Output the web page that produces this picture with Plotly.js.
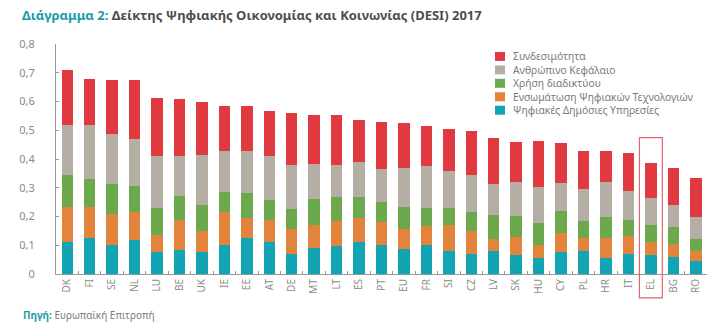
<!DOCTYPE html>
<html>
<head>
<meta charset="utf-8">
<script src="https://cdn.plot.ly/plotly-3.0.1.min.js"></script>
<style>html,body{margin:0;padding:0;background:#fff;}#chart{width:707px;height:329px;}</style>
</head>
<body>
<div id="chart"></div>
<script>
const countries = ["DK","FI","SE","NL","LU","BE","UK","IE","EE","AT","DE","MT","LT","ES","PT","EU","FR","SI","CZ","LV","SK","HU","CY","PL","HR","IT","EL","BG","RO"];
const publicServices = [0.111,0.125,0.102,0.117,0.076,0.085,0.076,0.100,0.125,0.111,0.070,0.092,0.096,0.111,0.102,0.087,0.102,0.081,0.070,0.081,0.065,0.055,0.077,0.081,0.054,0.070,0.065,0.060,0.045];
const integration = [0.123,0.109,0.108,0.097,0.059,0.103,0.074,0.114,0.070,0.076,0.087,0.080,0.089,0.084,0.080,0.070,0.065,0.090,0.078,0.041,0.062,0.047,0.065,0.045,0.071,0.063,0.046,0.045,0.035];
const internetUse = [0.110,0.095,0.103,0.092,0.094,0.083,0.090,0.072,0.087,0.069,0.068,0.090,0.082,0.072,0.069,0.075,0.063,0.059,0.066,0.084,0.075,0.077,0.077,0.060,0.075,0.055,0.061,0.059,0.042];
const humanCapital = [0.176,0.191,0.175,0.162,0.182,0.140,0.175,0.141,0.145,0.155,0.155,0.121,0.113,0.123,0.115,0.138,0.145,0.129,0.130,0.106,0.119,0.124,0.099,0.111,0.119,0.100,0.094,0.077,0.075];
const connectivity = [0.188,0.159,0.188,0.208,0.202,0.196,0.185,0.158,0.156,0.157,0.181,0.171,0.174,0.147,0.164,0.154,0.139,0.147,0.155,0.161,0.137,0.159,0.139,0.131,0.108,0.133,0.121,0.129,0.138];

const seriesNames = ["Ψηφιακές Δημόσιες Υπηρεσίες","Ενσωμάτωση Ψηφιακών Τεχνολογιών","Χρήση διαδικτύου","Ανθρώπινο Κεφάλαιο","Συνδεσιμότητα"];
const seriesColors = ["#12a4b3","#e2843b","#6ca84c","#b5aea4","#e0393f"];
const seriesValues = [publicServices, integration, internetUse, humanCapital, connectivity];
const highlight = "EL";

// layout in pixels
const W = 707, H = 329, L = 56, R = 0, T = 43.5, B = 54.5;
const PW = W - L - R, PH = H - T - B;
const px = p => (p - L) / PW;
const py = p => (H - B - p) / PH;

const traces = seriesValues.map((vals, i) => ({
  type: "bar", x: countries, y: vals, name: seriesNames[i],
  marker: {color: seriesColors[i]}, showlegend: false, hoverinfo: "x+y+name"
}));

const shapes = [];
const annotations = [];
// custom legend (top to bottom: reversed stacking order)
for (let k = 0; k < 5; k++) {
  const i = 4 - k;
  const cy = 56 + k * 13.5;
  shapes.push({type: "rect", xref: "paper", yref: "paper",
    x0: px(495), x1: px(505), y0: py(cy + 4.5), y1: py(cy - 4.5),
    fillcolor: seriesColors[i], line: {width: 0}});
  annotations.push({xref: "paper", yref: "paper", x: px(512), y: py(cy),
    xanchor: "left", yanchor: "middle", showarrow: false, text: seriesNames[i],
    borderpad: 0, font: {size: 10.3, color: "#7a7a7a"}});
}
// highlight box around Greece
const hi = countries.indexOf(highlight);
shapes.push({type: "rect", xref: "x", yref: "paper", x0: hi - 0.51, x1: hi + 0.51,
  y0: py(298.5), y1: py(137.5), line: {color: "#e0666b", width: 1.2}, fillcolor: "rgba(0,0,0,0)"});
// source note
annotations.push({xref: "paper", yref: "paper", x: px(21), y: py(315.5), xanchor: "left", yanchor: "middle",
  showarrow: false, text: "<b><span style='color:#1b9ba9'>Πηγή:</span></b> Ευρωπαϊκή Επιτροπή",
  font: {size: 10, color: "#7a7a7a"}});

const layout = {
  width: W, height: H, barmode: "stack", bargap: 0.49,
  separators: ",.",
  font: {family: "Noto Sans, sans-serif", color: "#888"},
  paper_bgcolor: "#fff", plot_bgcolor: "#fff",
  margin: {l: L, r: R, t: T, b: B, pad: 0},
  title: {text: "<b><span style='color:#1b9ba9'>Διάγραμμα 2:</span> Δείκτης Ψηφιακής Οικονομίας και Κοινωνίας (DESI) 2017</b>",
    x: 22 / W, xref: "container", xanchor: "left", y: 1 - 15 / H, yref: "container", yanchor: "middle",
    font: {size: 13, color: "#4d4d4d", family: "Noto Sans, sans-serif"}},
  xaxis: {type: "category", showline: true, linecolor: "#999", linewidth: 1,
    ticks: "inside", tickson: "boundaries", ticklen: 3, tickcolor: "#999",
    tickangle: -90, tickfont: {size: 10, color: "#8a8a8a"}, showgrid: false, zeroline: false,
    fixedrange: true},
  yaxis: {range: [0, 0.8], dtick: 0.1, tick0: 0, showline: true, linecolor: "#999", linewidth: 1,
    ticks: "inside", ticklen: 3, tickcolor: "#999", showgrid: false, zeroline: false,
    tickfont: {size: 11, color: "#8a8a8a"}, ticklabelstandoff: 18, fixedrange: true},
  shapes: shapes, annotations: annotations, showlegend: false
};

Plotly.newPlot("chart", traces, layout, {displayModeBar: false, staticPlot: true});
</script>
</body>
</html>
